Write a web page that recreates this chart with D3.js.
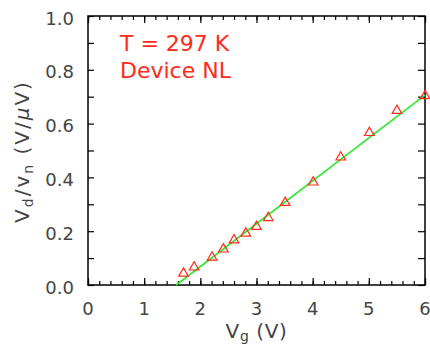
<!DOCTYPE html>
<html><head><meta charset="utf-8">
<script src="https://cdn.jsdelivr.net/npm/d3@7"></script>
<style>body{margin:0;background:#fff}svg{display:block}text{font-family:"DejaVu Sans",sans-serif}</style>
</head><body>
<script>
const vg = [1.70, 1.89, 2.21, 2.41, 2.60, 2.81, 3.00, 3.21, 3.51, 4.01, 4.50, 5.01, 5.50, 6.00];
const ratio = [0.043, 0.066, 0.103, 0.133, 0.167, 0.192, 0.217, 0.250, 0.306, 0.382, 0.475, 0.566, 0.648, 0.703];
const fitX = [1.57, 6.0];
const fitY = [0.0, 0.706];
const xTicks = [0, 1, 2, 3, 4, 5, 6];
const yTicks = [0.0, 0.2, 0.4, 0.6, 0.8, 1.0];
const notes = ["T = 297 K", "Device NL"];

const W = 430, H = 350;
const m = {l: 88, r: 5, t: 16, b: 65};
const svg = d3.select("body").append("svg").attr("width", W).attr("height", H);
const x = d3.scaleLinear().domain([0, 6]).range([m.l, W - m.r]);
const y = d3.scaleLinear().domain([0, 1]).range([H - m.b, m.t]);
const textCol = "#444";

const xMinor = d3.range(0, 6.001, 0.2);
const yMinor = d3.range(0, 1.001, 0.1);
function axisG(axis, tr) {
  const g = svg.append("g").attr("transform", tr).call(axis);
  g.select(".domain").remove();
  g.selectAll("line").attr("stroke", "#000").attr("stroke-width", 1.2);
  return g;
}
axisG(d3.axisBottom(x).tickValues(xMinor).tickSize(-4).tickFormat(""), `translate(0,${y(0)})`);
axisG(d3.axisTop(x).tickValues(xMinor).tickSize(-4).tickFormat(""), `translate(0,${y(1)})`);
axisG(d3.axisBottom(x).tickValues(xTicks).tickSize(-7).tickFormat(""), `translate(0,${y(0)})`);
axisG(d3.axisTop(x).tickValues(xTicks).tickSize(-7).tickFormat(""), `translate(0,${y(1)})`);
axisG(d3.axisLeft(y).tickValues(yMinor).tickSize(-6).tickFormat(""), `translate(${x(0)},0)`);
axisG(d3.axisRight(y).tickValues(yMinor).tickSize(-7).tickFormat(""), `translate(${x(6)},0)`);

svg.append("g").selectAll("text").data(xTicks).join("text")
  .attr("x", d => x(d)).attr("y", y(0) + 30).attr("text-anchor", "middle")
  .attr("font-size", 18).attr("fill", textCol).text(d => d);
svg.append("g").selectAll("text").data(yTicks).join("text")
  .attr("x", x(0) - 14).attr("y", d => y(d) + 8.5).attr("text-anchor", "end")
  .attr("font-size", 18).attr("fill", textCol).text(d => d.toFixed(1));

svg.append("rect").attr("x", x(0)).attr("y", y(1)).attr("width", x(6) - x(0)).attr("height", y(0) - y(1))
  .attr("fill", "none").attr("stroke", "#000").attr("stroke-width", 1.5);

svg.append("line").attr("x1", x(fitX[0])).attr("y1", y(fitY[0])).attr("x2", x(fitX[1])).attr("y2", y(fitY[1]))
  .attr("stroke", "#2ee82e").attr("stroke-width", 1.6);

const tri = d3.symbol().type(d3.symbolTriangle).size(40);
svg.append("g").selectAll("path").data(vg.map((v, i) => [v, ratio[i]])).join("path")
  .attr("d", tri).attr("transform", d => `translate(${x(d[0])},${y(d[1])})`)
  .attr("fill", "none").attr("stroke", "#ff2a1a").attr("stroke-width", 1.2);

svg.append("g").selectAll("text").data(notes).join("text")
  .attr("x", 120).attr("y", (d, i) => 51 + i * 27).attr("font-size", 22).attr("fill", "#ff2a1a").text(d => d);

const xt = svg.append("text").attr("x", (x(0) + x(6)) / 2).attr("y", 338).attr("text-anchor", "middle")
  .attr("font-size", 20).attr("fill", textCol).attr("letter-spacing", 0.6);
xt.append("tspan").text("V");
xt.append("tspan").attr("font-size", 14).attr("dy", 3).text("g");
xt.append("tspan").attr("dy", -3).text(" (V)");

const yt = svg.append("text").attr("transform", `translate(29,${(y(0) + y(1)) / 2 + 1}) rotate(-90)`)
  .attr("text-anchor", "middle").attr("font-size", 20).attr("fill", textCol).attr("letter-spacing", 2);
yt.append("tspan").text("V");
yt.append("tspan").attr("font-size", 14).attr("dy", 4).text("d");
yt.append("tspan").attr("dy", -4).text("/v");
yt.append("tspan").attr("font-size", 14).attr("dy", 4).text("n");
yt.append("tspan").attr("dy", -4).text(" (V/");
yt.append("tspan").attr("font-style", "italic").text("μ");
yt.append("tspan").text("V)");
</script>
</body></html>
